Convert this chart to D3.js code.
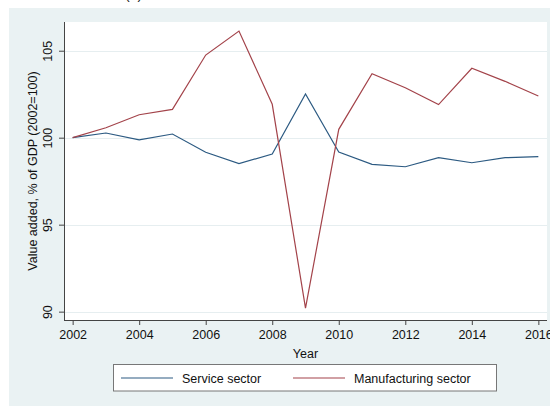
<!DOCTYPE html>
<html>
<head>
<meta charset="utf-8">
<script src="https://cdn.jsdelivr.net/npm/d3@7"></script>
<style>
  html, body { margin: 0; padding: 0; background: #ffffff; }
  svg { display: block; font-family: "Liberation Sans", Arial, Helvetica, sans-serif; }
</style>
</head>
<body>
<svg id="chart" width="550" height="406"></svg>
<script>
// Value added by sector, share of GDP indexed to 2002 = 100
const years = [2002, 2003, 2004, 2005, 2006, 2007, 2008, 2009, 2010, 2011, 2012, 2013, 2014, 2015, 2016];
const serviceSector = [100.0, 100.27, 99.87, 100.21, 99.16, 98.51, 99.06, 102.51, 99.18, 98.47, 98.33, 98.85, 98.56, 98.85, 98.91];
const manufacturingSector = [100.0, 100.57, 101.32, 101.63, 104.75, 106.13, 101.92, 90.2, 100.48, 103.68, 102.87, 101.9, 103.99, 103.24, 102.4];
const xTicks = [2002, 2004, 2006, 2008, 2010, 2012, 2014, 2016];
const yTicks = [90, 95, 100, 105];
const seriesNames = ["Service sector", "Manufacturing sector"];
const seriesColors = ["#2c5a82", "#a3434a"];

const svg = d3.select("#chart");
const W = 550, H = 406;
const plot = { left: 64, right: 547, top: 22, bottom: 320 };

// graph region background
svg.append("rect").attr("x", 9).attr("y", 8).attr("width", W - 9).attr("height", H - 8)
  .attr("fill", "#eaf2f3");

// partially visible panel title
svg.append("text").attr("x", 125).attr("y", -1).attr("font-size", 14).attr("fill", "#222")
  .text("(a)");

const x = d3.scaleLinear().domain([2001.74, 2016.26]).range([plot.left, plot.right]);
const y = d3.scaleLinear().domain([89.52, 106.65]).range([plot.bottom, plot.top]);

// plot region
svg.append("rect").attr("x", plot.left).attr("y", plot.top)
  .attr("width", plot.right - plot.left).attr("height", plot.bottom - plot.top)
  .attr("fill", "#ffffff");

// horizontal grid
svg.append("g").selectAll("line").data(yTicks).join("line")
  .attr("x1", plot.left).attr("x2", plot.right)
  .attr("y1", d => Math.round(y(d)) + 0.5).attr("y2", d => Math.round(y(d)) + 0.5)
  .attr("stroke", "#e6eef0").attr("stroke-width", 1);

// axes
const axisColor = "#444";
const yAxis = svg.append("g").attr("transform", `translate(${plot.left},0)`)
  .call(d3.axisLeft(y).tickValues(yTicks).tickSize(5).tickPadding(4).tickFormat(d3.format("d")));
yAxis.select(".domain").attr("stroke", axisColor).attr("d", `M0.5,${plot.top}V${plot.bottom + 0.5}`);
yAxis.selectAll(".tick line").attr("stroke", axisColor);
yAxis.selectAll(".tick text")
  .attr("font-size", 12.5).attr("fill", "#111").attr("font-family", "'Liberation Sans', Arial, sans-serif")
  .attr("text-anchor", "middle").attr("dy", 0)
  .attr("transform", "translate(-16,0) rotate(-90)").attr("x", 0).attr("y", 0)
  .attr("dominant-baseline", "central");

const xAxis = svg.append("g").attr("transform", `translate(0,${plot.bottom})`)
  .call(d3.axisBottom(x).tickValues(xTicks).tickSize(5).tickPadding(4).tickFormat(d3.format("d")));
xAxis.select(".domain").attr("stroke", axisColor).attr("d", `M${plot.left},0.5H${plot.right}`);
xAxis.selectAll(".tick line").attr("stroke", axisColor);
xAxis.selectAll(".tick text")
  .attr("font-size", 12.5).attr("fill", "#111").attr("font-family", "'Liberation Sans', Arial, sans-serif")
  .attr("dy", "0.71em").attr("y", 10);

// axis titles
svg.append("text").attr("x", (plot.left + plot.right) / 2).attr("y", 358)
  .attr("text-anchor", "middle").attr("font-size", 12.5).attr("fill", "#111").text("Year");
svg.append("text")
  .attr("transform", `translate(37,${(plot.top + plot.bottom) / 2}) rotate(-90)`)
  .attr("text-anchor", "middle").attr("font-size", 12.5).attr("fill", "#111")
  .text("Value added, % of GDP (2002=100)");

// series lines
const line = d3.line().x((d, i) => x(years[i])).y(d => y(d));
[serviceSector, manufacturingSector].forEach((vals, k) => {
  svg.append("path").datum(vals).attr("d", line)
    .attr("fill", "none").attr("stroke", seriesColors[k]).attr("stroke-width", 1.2)
    .attr("stroke-linejoin", "miter");
});

// legend
const legend = svg.append("g");
legend.append("rect").attr("x", 113.5).attr("y", 364.5).attr("width", 383).attr("height", 26.5)
  .attr("fill", "#ffffff").attr("stroke", "#777").attr("stroke-width", 1);
const legendItems = [
  { key: 0, x0: 121, x1: 173, tx: 182 },
  { key: 1, x0: 293, x1: 345, tx: 354 }
];
legendItems.forEach(it => {
  legend.append("line").attr("x1", it.x0).attr("x2", it.x1).attr("y1", 378).attr("y2", 378)
    .attr("stroke", seriesColors[it.key]).attr("stroke-width", 1.2);
  legend.append("text").attr("x", it.tx).attr("y", 382.5).attr("font-size", 12.5).attr("fill", "#111")
    .text(seriesNames[it.key]);
});
</script>
</body>
</html>
